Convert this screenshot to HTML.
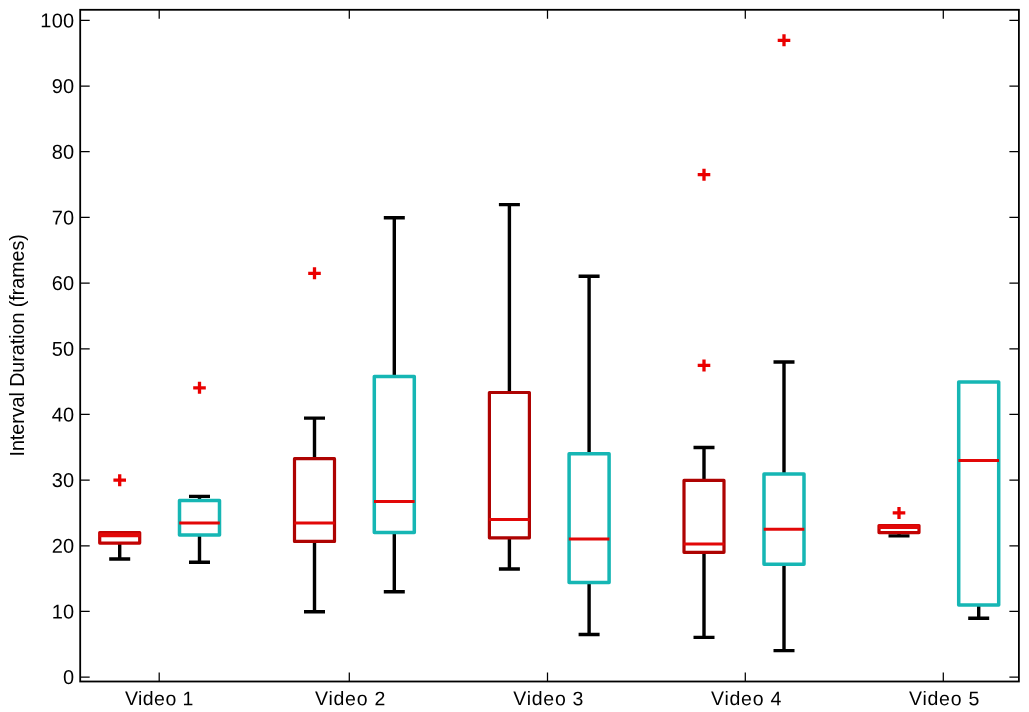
<!DOCTYPE html>
<html lang="en"><head><meta charset="utf-8"><title>Interval Duration boxplot</title>
<style>html,body{margin:0;padding:0;background:#fff}body{width:1029px;height:712px;overflow:hidden}svg{display:block;will-change:transform}text{font-family:"Liberation Sans",Helvetica,Arial,sans-serif;font-size:20px;fill:#000}</style></head><body>
<svg width="1029" height="712" viewBox="0 0 1029 712">
<rect width="1029" height="712" fill="#fff"/>
<g stroke="#000" stroke-width="3.4" fill="none">
<path d="M119.7 543.1V559.0M109.2 559.0H130.2"/>
<path d="M199.5 500.5V496.4M189.0 496.4H210.0"/>
<path d="M199.5 535.0V562.3M189.0 562.3H210.0"/>
<path d="M314.5 458.7V418.1M304.0 418.1H325.0"/>
<path d="M314.5 541.4V611.7M304.0 611.7H325.0"/>
<path d="M394.3 376.6V217.8M383.8 217.8H404.8"/>
<path d="M394.3 532.6V591.8M383.8 591.8H404.8"/>
<path d="M509.4 392.5V204.6M498.9 204.6H519.9"/>
<path d="M509.4 537.8V569.0M498.9 569.0H519.9"/>
<path d="M589.1 453.8V276.3M578.6 276.3H599.6"/>
<path d="M589.1 582.5V634.5M578.6 634.5H599.6"/>
<path d="M704.0 480.4V447.5M693.5 447.5H714.5"/>
<path d="M704.0 552.3V637.4M693.5 637.4H714.5"/>
<path d="M784.0 474.0V362.0M773.5 362.0H794.5"/>
<path d="M784.0 564.3V650.6M773.5 650.6H794.5"/>
<path d="M899.0 532.6V535.9M888.5 535.9H909.5"/>
<path d="M978.7 604.9V618.2M968.2 618.2H989.2"/>
</g>
<rect x="99.7" y="532.6" width="40" height="10.50" fill="none" stroke="#c20303" stroke-width="3.2" stroke-linejoin="round"/>
<path d="M99.4 534.9H140.0" stroke="#e20808" stroke-width="4.5"/>
<rect x="179.5" y="500.5" width="40" height="34.50" fill="none" stroke="#16b6b4" stroke-width="3.5" stroke-linejoin="round"/>
<path d="M179.2 523.0H219.8" stroke="#e20808" stroke-width="3"/>
<rect x="294.5" y="458.7" width="40" height="82.70" fill="none" stroke="#ae0302" stroke-width="3.2" stroke-linejoin="round"/>
<path d="M294.2 523.1H334.8" stroke="#e20808" stroke-width="3"/>
<rect x="374.3" y="376.6" width="40" height="156.00" fill="none" stroke="#16b6b4" stroke-width="3.5" stroke-linejoin="round"/>
<path d="M374.0 501.6H414.6" stroke="#e20808" stroke-width="3"/>
<rect x="489.4" y="392.5" width="40" height="145.30" fill="none" stroke="#ae0302" stroke-width="3.2" stroke-linejoin="round"/>
<path d="M489.1 519.4H529.7" stroke="#e20808" stroke-width="3"/>
<rect x="569.1" y="453.8" width="40" height="128.70" fill="none" stroke="#16b6b4" stroke-width="3.5" stroke-linejoin="round"/>
<path d="M568.8 539.0H609.4" stroke="#e20808" stroke-width="3"/>
<rect x="684.0" y="480.4" width="40" height="71.90" fill="none" stroke="#ae0302" stroke-width="3.2" stroke-linejoin="round"/>
<path d="M683.7 543.9H724.3" stroke="#e20808" stroke-width="3"/>
<rect x="764.0" y="474.0" width="40" height="90.30" fill="none" stroke="#16b6b4" stroke-width="3.5" stroke-linejoin="round"/>
<path d="M763.7 529.3H804.3" stroke="#e20808" stroke-width="3"/>
<rect x="879.0" y="525.5" width="40" height="7.10" fill="none" stroke="#c20303" stroke-width="3.2" stroke-linejoin="round"/>
<path d="M878.7 526.75H919.3" stroke="#e20808" stroke-width="4.5"/>
<rect x="958.7" y="382.0" width="40" height="222.90" fill="none" stroke="#16b6b4" stroke-width="3.5" stroke-linejoin="round"/>
<path d="M958.4 460.5H999.0" stroke="#e20808" stroke-width="3"/>
<g stroke="#ea0000" stroke-width="3.3" fill="none">
<path d="M113.4 480.2H126.0M119.7 474.2V486.2"/>
<path d="M193.2 387.8H205.8M199.5 381.8V393.8"/>
<path d="M308.2 273.3H320.8M314.5 267.3V279.3"/>
<path d="M697.7 365.4H710.3M704.0 359.4V371.4"/>
<path d="M697.7 174.7H710.3M704.0 168.7V180.7"/>
<path d="M777.7 40.3H790.3M784.0 34.3V46.3"/>
<path d="M892.7 512.9H905.3M899.0 506.9V518.9"/>
</g>
<rect x="80.2" y="9.8" width="938.7" height="671.7" fill="none" stroke="#000" stroke-width="1.8"/>
<g stroke="#000" stroke-width="1.25" fill="none">
<path d="M159.2 681.5v-9M159.2 9.8v9"/>
<path d="M349.3 681.5v-9M349.3 9.8v9"/>
<path d="M547.5 681.5v-9M547.5 9.8v9"/>
<path d="M745.3 681.5v-9M745.3 9.8v9"/>
<path d="M943.3 681.5v-9M943.3 9.8v9"/>
<path d="M80.2 677.1h9.5M1018.9 677.1h-9.5"/>
<path d="M80.2 611.43h9.5M1018.9 611.43h-9.5"/>
<path d="M80.2 545.76h9.5M1018.9 545.76h-9.5"/>
<path d="M80.2 480.09h9.5M1018.9 480.09h-9.5"/>
<path d="M80.2 414.42h9.5M1018.9 414.42h-9.5"/>
<path d="M80.2 348.75h9.5M1018.9 348.75h-9.5"/>
<path d="M80.2 283.08h9.5M1018.9 283.08h-9.5"/>
<path d="M80.2 217.41h9.5M1018.9 217.41h-9.5"/>
<path d="M80.2 151.74h9.5M1018.9 151.74h-9.5"/>
<path d="M80.2 86.07h9.5M1018.9 86.07h-9.5"/>
<path d="M80.2 20.4h9.5M1018.9 20.4h-9.5"/>
</g>
<g text-anchor="end" style="font-size:20.5px;letter-spacing:0.3px">
<text transform="translate(74.5 684.10) rotate(0.06)">0</text>
<text transform="translate(74.5 618.43) rotate(0.06)">10</text>
<text transform="translate(74.5 552.76) rotate(0.06)">20</text>
<text transform="translate(74.5 487.09) rotate(0.06)">30</text>
<text transform="translate(74.5 421.42) rotate(0.06)">40</text>
<text transform="translate(74.5 355.75) rotate(0.06)">50</text>
<text transform="translate(74.5 290.08) rotate(0.06)">60</text>
<text transform="translate(74.5 224.41) rotate(0.06)">70</text>
<text transform="translate(74.5 158.74) rotate(0.06)">80</text>
<text transform="translate(74.5 93.07) rotate(0.06)">90</text>
<text transform="translate(74.5 27.40) rotate(0.06)">100</text>
</g><g>
<text transform="translate(125.0 705.1) rotate(0.06)" style="font-size:19.5px;letter-spacing:0.43px">Video 1</text>
<text transform="translate(315.1 705.1) rotate(0.06)" style="font-size:19.5px;letter-spacing:0.73px">Video 2</text>
<text transform="translate(513.3 705.1) rotate(0.06)" style="font-size:19.5px;letter-spacing:0.73px">Video 3</text>
<text transform="translate(711.1 705.1) rotate(0.06)" style="font-size:19.5px;letter-spacing:0.73px">Video 4</text>
<text transform="translate(909.1 705.1) rotate(0.06)" style="font-size:19.5px;letter-spacing:0.73px">Video 5</text>
</g>
<text transform="translate(24.3 345.4) rotate(-90) scale(0.962 1)" text-anchor="middle" style="font-size:20.4px">Interval Duration (frames)</text>
</svg></body></html>
